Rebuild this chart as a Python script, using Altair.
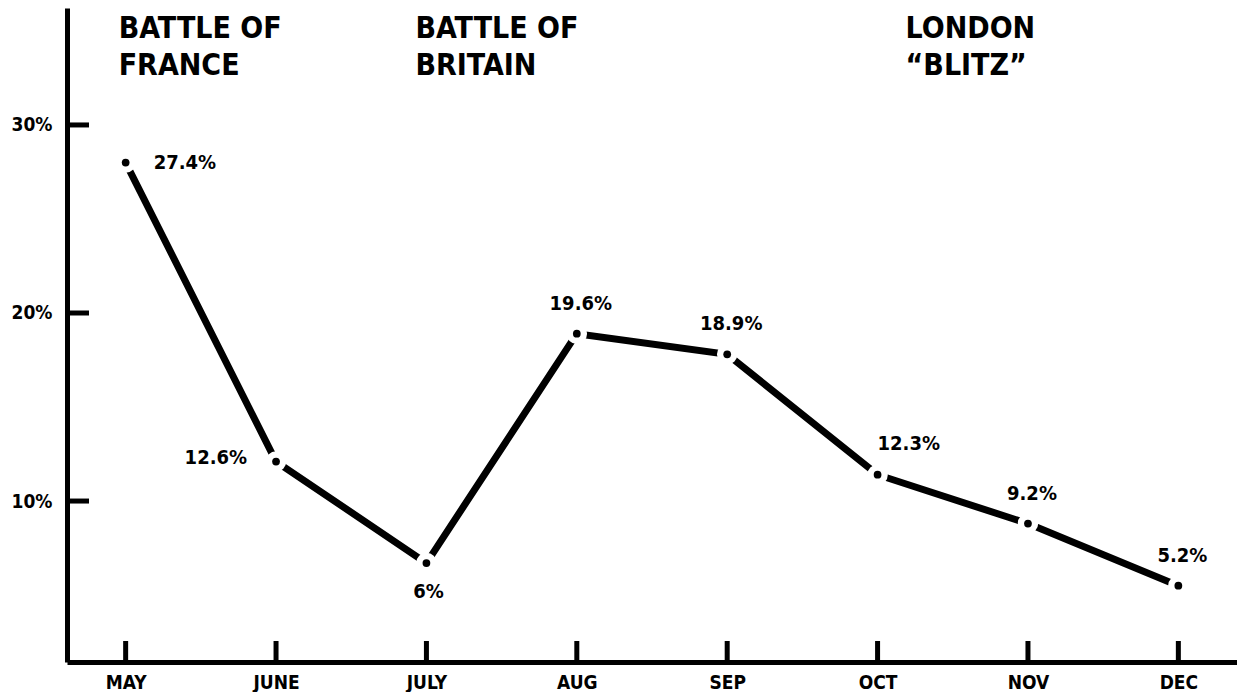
import altair as alt
import pandas as pd

# ---- data ----
months = ["MAY", "JUNE", "JULY", "AUG", "SEP", "OCT", "NOV", "DEC"]
plotted = [28.0, 12.1, 6.7, 18.9, 17.8, 11.4, 8.8, 5.5]
labels = ["27.4%", "12.6%", "6%", "19.6%", "18.9%", "12.3%", "9.2%", "5.2%"]
y_ticks = [10, 20, 30]
header_text = ["BATTLE OF\nFRANCE", "BATTLE OF\nBRITAIN", "LONDON\n\u201cBLITZ\u201d"]
header_month = ["MAY", "JULY", "OCT"]

FONT = "DejaVu Sans Condensed, Liberation Sans Narrow, sans-serif"
df = pd.DataFrame({"month": months, "value": plotted, "label": labels})
ticks_df = pd.DataFrame({"v": y_ticks})

xscale = alt.Scale(type="point", padding=0.39)
yscale = alt.Scale(domain=[1.44, 36.22], nice=False, zero=False)

xenc = alt.X(
    "month:N", sort=months, scale=xscale,
    axis=alt.Axis(title=None, domain=True, domainWidth=5, domainColor="black",
                  ticks=False, tickSize=0, grid=False, labelAngle=0,
                  labelFont=FONT, labelFontSize=19, labelFontWeight="bold",
                  labelColor="black", labelPadding=26, labelBaseline="alphabetic"),
)
yenc = alt.Y(
    "value:Q", scale=yscale,
    axis=alt.Axis(title=None, domain=True, domainWidth=5, domainColor="black",
                  ticks=False, tickSize=0, grid=False, values=y_ticks,
                  labelExpr="datum.value + '%'", labelFont=FONT, labelFontSize=19,
                  labelFontWeight="bold", labelColor="black", labelPadding=15),
)

base = alt.Chart(df)

line = base.mark_line(color="black", strokeWidth=7, strokeCap="butt").encode(x=xenc, y=yenc)
gaps = base.mark_circle(size=420, color="white", opacity=1).encode(x=xenc, y=yenc)
dots = base.mark_circle(size=60, color="black", opacity=1).encode(x=xenc, y=yenc)

ytick_rules = alt.Chart(ticks_df).mark_rule(color="black", strokeWidth=5).encode(
    y=alt.Y("v:Q", scale=yscale), x=alt.value(0), x2=alt.value(22)
)
xtick_rules = base.mark_rule(color="black", strokeWidth=5).encode(
    x=alt.X("month:N", sort=months, scale=xscale), y=alt.value(654), y2=alt.value(633)
)

def lab(sel, **kw):
    return base.transform_filter(
        alt.FieldOneOfPredicate(field="month", oneOf=sel)
    ).mark_text(font=FONT, fontSize=20, fontWeight="bold", color="black", **kw).encode(
        x=alt.X("month:N", sort=months, scale=xscale),
        y=alt.Y("value:Q", scale=yscale),
        text="label:N",
    )

labels_layers = [
    lab(["MAY"], align="left", baseline="middle", dx=28, dy=0),
    lab(["JUNE"], align="right", baseline="middle", dx=-29, dy=-4),
    lab(["JULY"], align="center", baseline="middle", dx=2, dy=29),
    lab(["AUG", "SEP", "NOV", "DEC"], align="center", baseline="middle", dx=4, dy=-30),
    lab(["OCT"], align="left", baseline="middle", dx=0, dy=-31),
]

hdf = pd.DataFrame({"month": header_month, "text": header_text})
hdx = {"MAY": -7, "JULY": -11, "OCT": 28}
header_layers = []
for m in header_month:
    header_layers.append(
        alt.Chart(hdf).transform_filter(alt.datum.month == m).mark_text(
            font=FONT, fontSize=30, fontWeight="bold", color="black",
            align="left", baseline="alphabetic", lineBreak="\n", lineHeight=37, dx=hdx[m]
        ).encode(
            x=alt.X("month:N", sort=months, scale=xscale),
            y=alt.value(30),
            text="text:N",
        )
    )

chart = alt.layer(
    line, gaps, dots, ytick_rules, xtick_rules, *labels_layers, *header_layers
).properties(
    width=1170, height=654,
    autosize=alt.AutoSizeParams(type="none"),
    padding={"left": 59, "top": 0, "right": 0, "bottom": 30},
    background="white",
).configure_view(strokeWidth=0)

chart.save("out.html", embed_options={"renderer": "svg", "actions": False})
